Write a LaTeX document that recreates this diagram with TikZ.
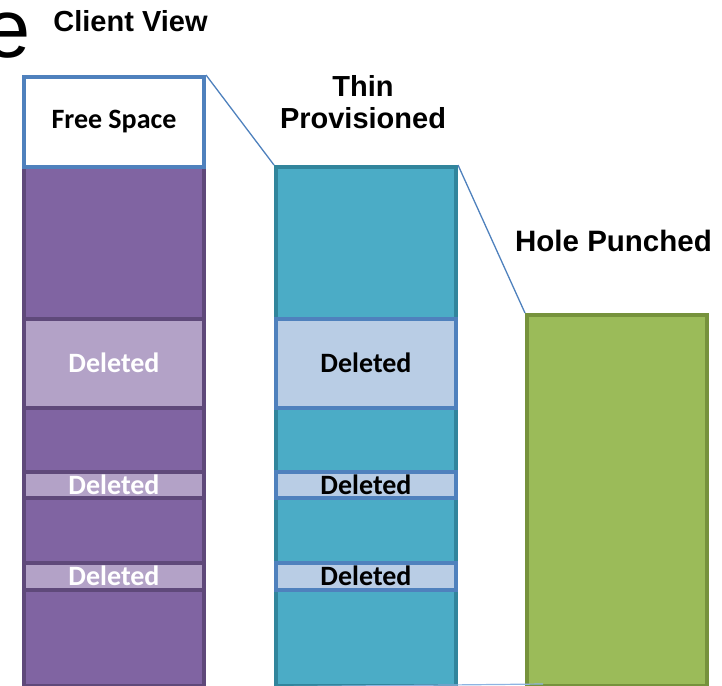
\documentclass[tikz,border=0pt]{standalone}
\usepackage{fontspec}
\setmainfont{Liberation Sans}
\newfontfamily\calibri{Carlito}
\definecolor{purpfill}{HTML}{8064A2}
\definecolor{purpline}{HTML}{5F497A}
\definecolor{purpdel}{HTML}{B3A2C7}
\definecolor{freeline}{HTML}{4F81BD}
\definecolor{tealfill}{HTML}{4BACC6}
\definecolor{tealline}{HTML}{31859C}
\definecolor{tealdel}{HTML}{B9CDE5}
\definecolor{greenfill}{HTML}{9BBB59}
\definecolor{greenline}{HTML}{76923C}
\definecolor{baseblue}{HTML}{8DB4E2}
\begin{document}
\begin{tikzpicture}[x=1pt,y=-1pt,
  blk/.style={draw,line width=4pt,inner sep=0pt,anchor=north west,minimum width=180pt,
    font=\calibri\bfseries\fontsize{28}{30}\selectfont},
  hdr/.style={font=\bfseries\fontsize{29}{32}\selectfont,inner sep=0pt,anchor=base},
  link/.style={draw=freeline,line width=1.3pt}]
\useasboundingbox (0,0) rectangle (722,685);
\clip (0,0) rectangle (722,685);
% client view
\node[blk,draw=purpline,fill=purpfill,minimum height=519pt] (client) at (22,164.5) {};
\node[blk,draw=freeline,fill=white,minimum height=89.5pt] (free) at (22,75) {Free Space};
\node[blk,draw=purpline,fill=purpdel,text=white,minimum height=88.5pt] (cdel1) at (22,317) {Deleted};
\node[blk,draw=purpline,fill=purpdel,text=white,minimum height=26pt] (cdel2) at (22,469.5) {Deleted};
\node[blk,draw=purpline,fill=purpdel,text=white,minimum height=27pt] (cdel3) at (22,560.5) {Deleted};
% thin provisioned
\node[blk,draw=tealline,fill=tealfill,minimum height=519pt] (thin) at (274,165) {};
\node[blk,draw=freeline,fill=tealdel,minimum height=88.5pt] (tdel1) at (274,317) {Deleted};
\node[blk,draw=freeline,fill=tealdel,minimum height=26pt] (tdel2) at (274,469.5) {Deleted};
\node[blk,draw=freeline,fill=tealdel,minimum height=27pt] (tdel3) at (274,560.5) {Deleted};
% hole punched
\node[blk,draw=greenline,fill=greenfill,minimum height=371pt] (hole) at (525,313) {};
% links
\draw[link] (free.north east) -- (thin.north west);
\draw[link] (thin.north east) -- (hole.north west);
\coordinate (baseend) at (543,684);
\draw[draw=baseblue,line width=1.2pt] (client.south east) -- (baseend);
% titles
\node[font=\fontsize{83}{90}\selectfont,inner sep=0pt,anchor=base east] (bigE) at (30.6,57) {e};
\node[hdr] (clientlbl) at (130.5,32) {Client View};
\node[hdr] (thinlbl) at (363,96) {Thin};
\node[hdr] (provlbl) at (363,128) {Provisioned};
\node[hdr,font=\bfseries\fontsize{29.5}{32}\selectfont] (holelbl) at (613.5,251) {Hole Punched};
\end{tikzpicture}
\end{document}
